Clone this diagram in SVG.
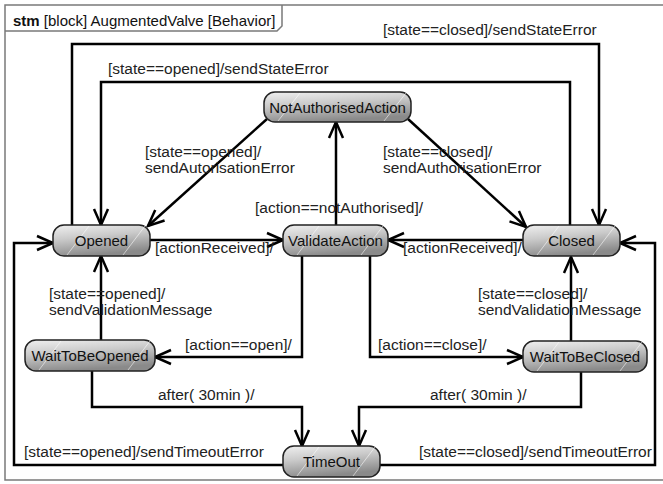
<svg xmlns="http://www.w3.org/2000/svg" width="663" height="484" viewBox="0 0 663 484">
<style>
.frame{fill:none;stroke:#7a7a7a;stroke-width:1.5}
.node rect.body{fill:url(#g);stroke:#222;stroke-width:1.5}
.node line{stroke:#fff;stroke-opacity:0.55;stroke-width:1}
.node text{font-family:"Liberation Sans",Arial,sans-serif;font-size:15px;fill:#111;text-anchor:middle}
.edge{fill:none;stroke:#000;stroke-width:2.5;stroke-linejoin:miter}
.lbl{font-family:"Liberation Sans",Arial,sans-serif;font-size:15.5px;fill:#222}
.hdr{font-family:"Liberation Sans",Arial,sans-serif;font-size:15px;fill:#111}
</style>
<defs>
<linearGradient id="g" x1="0" y1="0" x2="0.3" y2="1">
<stop offset="0" stop-color="#f0f0f0"/>
<stop offset="0.45" stop-color="#cacaca"/>
<stop offset="1" stop-color="#8a8a8a"/>
</linearGradient>
<marker id="arr" markerWidth="20" markerHeight="20" viewBox="-18 -10 20 20" refX="0" refY="0" orient="auto" markerUnits="userSpaceOnUse">
<path d="M-16,-7 L0,0 L-16,7" fill="none" stroke="#000" stroke-width="2.5"/>
</marker>
</defs>
<rect x="0" y="0" width="663" height="484" fill="#fff"/>
<g id="frame">
<path class="frame" d="M670,5 H5 V480 H670"/>
<path class="frame" d="M5,31 H277 L282,26 V5"/>
<text class="hdr" x="13" y="26"><tspan font-weight="bold">stm</tspan> [block] AugmentedValve [Behavior]</text>
</g>
<g id="connectors">
<path class="edge" d="M72,225 V44 H599 V225" marker-end="url(#arr)"/>
<path class="edge" d="M570,225 V82 H101 V225" marker-end="url(#arr)"/>
<path class="edge" d="M150,240 H283" marker-end="url(#arr)"/>
<path class="edge" d="M523,240 H388" marker-end="url(#arr)"/>
<path class="edge" d="M267,119 L148,226" marker-end="url(#arr)"/>
<path class="edge" d="M408,119 L526,227" marker-end="url(#arr)"/>
<path class="edge" d="M336,225 V122" marker-end="url(#arr)"/>
<path class="edge" d="M302,256 V357 H155" marker-end="url(#arr)"/>
<path class="edge" d="M370,256 V357 H523" marker-end="url(#arr)"/>
<path class="edge" d="M101,340 V256" marker-end="url(#arr)"/>
<path class="edge" d="M571,341 V257" marker-end="url(#arr)"/>
<path class="edge" d="M92,371 V407 H302 V446" marker-end="url(#arr)"/>
<path class="edge" d="M581,372 V407 H359 V446" marker-end="url(#arr)"/>
<path class="edge" d="M283,465 H14 V243 H53" marker-end="url(#arr)"/>
<path class="edge" d="M380,465 H655 V243 H620" marker-end="url(#arr)"/>
<text class="lbl" x="383" y="35">[state==closed]/sendStateError</text>
<text class="lbl" x="108" y="74">[state==opened]/sendStateError</text>
<text class="lbl" x="145" y="157">[state==opened]/</text>
<text class="lbl" x="145" y="173">sendAutorisationError</text>
<text class="lbl" x="383" y="157">[state==closed]/</text>
<text class="lbl" x="383" y="173">sendAuthorisationError</text>
<text class="lbl" x="255" y="213">[action==notAuthorised]/</text>
<text class="lbl" x="155" y="253">[actionReceived]/</text>
<text class="lbl" x="403" y="253">[actionReceived]/</text>
<text class="lbl" x="49" y="299">[state==opened]/</text>
<text class="lbl" x="49" y="315">sendValidationMessage</text>
<text class="lbl" x="478" y="299">[state==closed]/</text>
<text class="lbl" x="478" y="315">sendValidationMessage</text>
<text class="lbl" x="185" y="350">[action==open]/</text>
<text class="lbl" x="378" y="350">[action==close]/</text>
<text class="lbl" x="158" y="400">after( 30min )/</text>
<text class="lbl" x="430" y="400">after( 30min )/</text>
<text class="lbl" x="24" y="457">[state==opened]/sendTimeoutError</text>
<text class="lbl" x="419" y="457">[state==closed]/sendTimeoutError</text>
</g>
<g id="NotAuthorisedAction" class="node">
<rect class="body" x="264" y="92" width="147" height="30" rx="11"/>
<line x1="278" y1="121" x2="300" y2="93"/><line x1="384" y1="121" x2="406" y2="93"/>
<text x="337.5" y="112.5">NotAuthorisedAction</text>
</g>
<g id="Opened" class="node">
<rect class="body" x="53" y="225" width="97" height="31" rx="11"/>
<line x1="67" y1="255" x2="89" y2="226"/><line x1="123" y1="255" x2="145" y2="226"/>
<text x="101.5" y="246">Opened</text>
</g>
<g id="ValidateAction" class="node">
<rect class="body" x="283" y="225" width="105" height="31" rx="11"/>
<line x1="297" y1="255" x2="319" y2="226"/><line x1="361" y1="255" x2="383" y2="226"/>
<text x="335.5" y="246">ValidateAction</text>
</g>
<g id="Closed" class="node">
<rect class="body" x="523" y="225" width="97" height="31" rx="11"/>
<line x1="537" y1="255" x2="559" y2="226"/><line x1="593" y1="255" x2="615" y2="226"/>
<text x="571.5" y="246">Closed</text>
</g>
<g id="WaitToBeOpened" class="node">
<rect class="body" x="25" y="340" width="130" height="31" rx="11"/>
<line x1="39" y1="370" x2="61" y2="341"/><line x1="128" y1="370" x2="150" y2="341"/>
<text x="90" y="361">WaitToBeOpened</text>
</g>
<g id="WaitToBeClosed" class="node">
<rect class="body" x="523" y="341" width="124" height="31" rx="11"/>
<line x1="537" y1="371" x2="559" y2="342"/><line x1="620" y1="371" x2="642" y2="342"/>
<text x="585" y="362">WaitToBeClosed</text>
</g>
<g id="TimeOut" class="node">
<rect class="body" x="283" y="446" width="97" height="31" rx="11"/>
<line x1="297" y1="476" x2="319" y2="447"/><line x1="353" y1="476" x2="375" y2="447"/>
<text x="331.5" y="467">TimeOut</text>
</g>
</svg>
